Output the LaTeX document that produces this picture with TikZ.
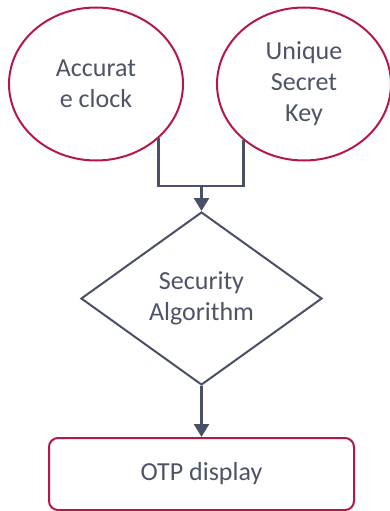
\documentclass[tikz,border=0pt]{standalone}
\usepackage{fontspec}
\setmainfont{Carlito}
\usetikzlibrary{arrows.meta,shapes.geometric}
\definecolor{Rim}{HTML}{B41846}
\definecolor{Ink}{HTML}{4A5068}
\definecolor{Label}{HTML}{4D5468}

\begin{document}
\begin{tikzpicture}[x=1pt,y=-1pt,
  txt/.style={font=\fontsize{26}{31}\selectfont,text=Label,align=center},
  bubble/.style={txt,ellipse,draw=Rim,line width=2pt,minimum width=174pt,minimum height=153pt,inner sep=0pt},
  decision/.style={txt,diamond,draw=Ink,line width=2pt,minimum width=241pt,minimum height=173pt,inner sep=0pt},
  terminal/.style={txt,rectangle,rounded corners=9pt,draw=Rim,line width=2pt,minimum width=305pt,minimum height=72pt},
  link/.style={draw=Ink,line width=2.6pt},
  arr/.style={link,-{Triangle[length=13pt,width=15pt]}}]
\useasboundingbox (0,0) rectangle (390,511);
\node[bubble] (acc) at (96,84) {Accurat\\e clock};
\node[bubble] (key) at (304,84) {Unique\\Secret\\Key};
\node[decision] (alg) at (201.5,298.5) {Security\\Algorithm};
\node[terminal] (otp) at (201.5,474) {OTP display};
\coordinate (join) at (201.5,186);
\draw[link] (acc.-41) |- (join) -| (key.-137);
\draw[arr] (join) -- (alg.north);
\draw[arr] (alg.south) -- (otp.north);
\end{tikzpicture}
\end{document}
